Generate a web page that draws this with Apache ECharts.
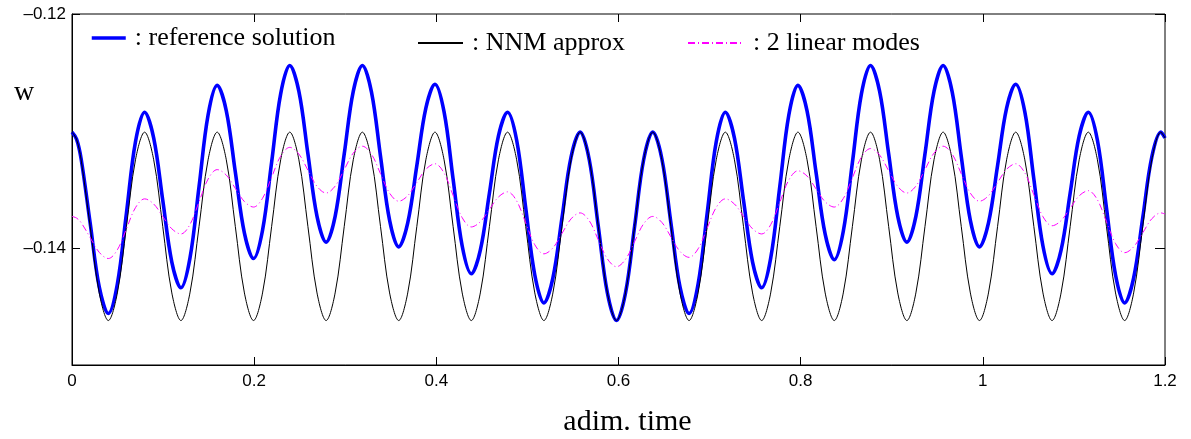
<!DOCTYPE html>
<html><head><meta charset="utf-8">
<script src="https://cdn.jsdelivr.net/npm/echarts@6/dist/echarts.min.js"></script>
<style>html,body{margin:0;padding:0;background:#fff}#c{width:1191px;height:439px}</style>
</head><body><div id="c"></div>
<script>
// adimensional time samples (1/8-period spacing)
const timeValues = [
 0, 0.0050, 0.0100, 0.0199, 0.0299, 0.0399, 0.0498, 0.0598, 0.0697, 0.0797, 0.0897,
 0.0996, 0.1096, 0.1196, 0.1295, 0.1395, 0.1494, 0.1594, 0.1694, 0.1793, 0.1893,
 0.1993, 0.2092, 0.2192, 0.2291, 0.2391, 0.2491, 0.2590, 0.2690, 0.2790, 0.2889,
 0.2989, 0.3088, 0.3188, 0.3288, 0.3387, 0.3487, 0.3587, 0.3686, 0.3786, 0.3885,
 0.3985, 0.4085, 0.4184, 0.4284, 0.4384, 0.4483, 0.4583, 0.4682, 0.4782, 0.4882,
 0.4981, 0.5081, 0.5181, 0.5280, 0.5380, 0.5479, 0.5579, 0.5679, 0.5778, 0.5878,
 0.5978, 0.6077, 0.6177, 0.6276, 0.6376, 0.6476, 0.6575, 0.6675, 0.6775, 0.6874,
 0.6974, 0.7073, 0.7173, 0.7273, 0.7372, 0.7472, 0.7572, 0.7671, 0.7771, 0.7870,
 0.7970, 0.8070, 0.8169, 0.8269, 0.8369, 0.8468, 0.8568, 0.8667, 0.8767, 0.8867,
 0.8966, 0.9066, 0.9166, 0.9265, 0.9365, 0.9464, 0.9564, 0.9664, 0.9763, 0.9863,
 0.9963, 1.0062, 1.0162, 1.0261, 1.0361, 1.0461, 1.0560, 1.0660, 1.0760, 1.0859,
 1.0959, 1.1058, 1.1158, 1.1258, 1.1357, 1.1457, 1.1557, 1.1656, 1.1756, 1.1855,
 1.1955, 1.2
];
const referenceSolution = [
 -0.1301, -0.13069, -0.13237, -0.13785, -0.14333,  -0.1456, -0.14308, -0.1370, -0.13092,
 -0.1284, -0.13060, -0.1359, -0.14120,   -0.1434, -0.14087, -0.13475, -0.12863,
 -0.1261, -0.12827, -0.1335, -0.13873,   -0.1409, -0.13848, -0.13265, -0.12682,
 -0.1244, -0.12661, -0.13195, -0.13729,  -0.1395, -0.13729, -0.13195, -0.12661,
 -0.1244, -0.12667, -0.13215, -0.13763,  -0.1399, -0.13786, -0.13295, -0.12804,
 -0.1260, -0.12837, -0.1341, -0.13983,   -0.1422, -0.14018, -0.1353, -0.13042,
 -0.1284, -0.13079, -0.13655, -0.14231,  -0.1447, -0.14256, -0.1374, -0.13224,
 -0.1301, -0.13246, -0.13815, -0.14384,  -0.1462, -0.14384, -0.13815, -0.13246,
 -0.1301, -0.13237, -0.13785, -0.14333,  -0.1456, -0.14308, -0.1370, -0.13092,
 -0.1284, -0.13060, -0.1359, -0.14120,   -0.1434, -0.14087, -0.13475, -0.12863,
 -0.1261, -0.12828, -0.13355, -0.13882,  -0.1410, -0.13857, -0.1327, -0.12683,
 -0.1244, -0.12661, -0.13195, -0.13729,  -0.1395, -0.13729, -0.13195, -0.12661,
 -0.1244, -0.12667, -0.13215, -0.13763,  -0.1399, -0.13786, -0.13295, -0.12804,
 -0.1260, -0.12837, -0.1341, -0.13983,   -0.1422, -0.14018, -0.1353, -0.13042,
 -0.1284, -0.13079, -0.13655, -0.14231,  -0.1447, -0.14256, -0.1374, -0.13224,
 -0.1301, -0.1306
];
const nnmApprox = [
 -0.1301, -0.13071, -0.13246, -0.13815, -0.14384,  -0.1462, -0.14384, -0.13815, -0.13246,
 -0.1301, -0.13246, -0.13815, -0.14384,  -0.1462, -0.14384, -0.13815, -0.13246,
 -0.1301, -0.13246, -0.13815, -0.14384,  -0.1462, -0.14384, -0.13815, -0.13246,
 -0.1301, -0.13246, -0.13815, -0.14384,  -0.1462, -0.14384, -0.13815, -0.13246,
 -0.1301, -0.13246, -0.13815, -0.14384,  -0.1462, -0.14384, -0.13815, -0.13246,
 -0.1301, -0.13246, -0.13815, -0.14384,  -0.1462, -0.14384, -0.13815, -0.13246,
 -0.1301, -0.13246, -0.13815, -0.14384,  -0.1462, -0.14384, -0.13815, -0.13246,
 -0.1301, -0.13246, -0.13815, -0.14384,  -0.1462, -0.14384, -0.13815, -0.13246,
 -0.1301, -0.13246, -0.13815, -0.14384,  -0.1462, -0.14384, -0.13815, -0.13246,
 -0.1301, -0.13246, -0.13815, -0.14384,  -0.1462, -0.14384, -0.13815, -0.13246,
 -0.1301, -0.13246, -0.13815, -0.14384,  -0.1462, -0.14384, -0.13815, -0.13246,
 -0.1301, -0.13246, -0.13815, -0.14384,  -0.1462, -0.14384, -0.13815, -0.13246,
 -0.1301, -0.13246, -0.13815, -0.14384,  -0.1462, -0.14384, -0.13815, -0.13246,
 -0.1301, -0.13246, -0.13815, -0.14384,  -0.1462, -0.14384, -0.13815, -0.13246,
 -0.1301, -0.13246, -0.13815, -0.14384,  -0.1462, -0.14384, -0.13815, -0.13246,
 -0.1301, -0.1306
];
const twoLinearModes = [
 -0.1373, -0.13744, -0.13783, -0.1391, -0.14037,   -0.1409, -0.14015, -0.13835, -0.13655,
 -0.1358, -0.13624, -0.1373, -0.13836,   -0.1388, -0.13799, -0.13605, -0.13411,
 -0.1333, -0.13377, -0.1349, -0.13603,   -0.1365, -0.13575, -0.13395, -0.13215,
 -0.1314, -0.13197, -0.13335, -0.13473,  -0.1353, -0.13471, -0.1333, -0.13189,
 -0.1313, -0.13199, -0.13365, -0.13531,  -0.1360, -0.13553, -0.1344, -0.13327,
 -0.1328, -0.13359, -0.1355, -0.13741,   -0.1382, -0.13776, -0.1367, -0.13564,
 -0.1352, -0.13598, -0.13785, -0.13972,  -0.1405, -0.13999, -0.13875, -0.13751,
 -0.1370, -0.13767, -0.1393, -0.14093,   -0.1416, -0.14097, -0.13945, -0.13793,
 -0.1373, -0.13781, -0.13905, -0.14029,  -0.1408, -0.14007, -0.1383, -0.13653,
 -0.1358, -0.13624, -0.1373, -0.13836,   -0.1388, -0.13801, -0.1361, -0.13419,
 -0.1334, -0.13385, -0.13495, -0.13605,  -0.1365, -0.13577, -0.1340, -0.13223,
 -0.1315, -0.13206, -0.1334, -0.13474,   -0.1353, -0.13471, -0.1333, -0.13189,
 -0.1313, -0.13199, -0.13365, -0.13531,  -0.1360, -0.13553, -0.1344, -0.13327,
 -0.1328, -0.13358, -0.13545, -0.13732,  -0.1381, -0.13766, -0.1366, -0.13554,
 -0.1351, -0.13588, -0.13775, -0.13962,  -0.1404, -0.1399, -0.1387, -0.1375,
 -0.1370, -0.1371
];
const seriesNames = [': reference solution', ': NNM approx', ': 2 linear modes'];
const xTickValues = [0, 0.2, 0.4, 0.6, 0.8, 1, 1.2];
const xTickLabels = ['0', '0.2', '0.4', '0.6', '0.8', '1', '1.2'];
const yTickValues = [-0.14, -0.12];
const yTickLabels = ['\u20130.14', '\u20130.12'];

const pairs = (ys) => timeValues.map((t, i) => [t, ys[i]]);
const sans = 'Liberation Sans, Arial, sans-serif';
const serif = 'Liberation Serif, Times New Roman, serif';

const chart = echarts.init(document.getElementById('c'), null, {renderer: 'canvas'});
const xLabelFmt = (v) => { const i = xTickValues.findIndex(x => Math.abs(x - v) < 1e-9); return i >= 0 ? xTickLabels[i] : ''; };
const yLabelFmt = (v) => { const i = yTickValues.findIndex(y => Math.abs(y - v) < 1e-9); return i >= 0 ? yTickLabels[i] : ''; };
const legendBase = {padding: 0, itemHeight: 14, itemStyle: {opacity: 0}};
const yRange = {type: 'value', min: -0.15, max: -0.12, splitLine: {show: false}};

chart.setOption({
  animation: false,
  backgroundColor: '#fff',
  grid: {left: 72, right: 26, top: 14, bottom: 74, show: true, borderColor: '#000', borderWidth: 1, containLabel: false, outerBoundsMode: 'none'},
  xAxis: [{
    type: 'value', min: 0, max: 1.2, interval: 0.2,
    axisLine: {show: true, onZero: false, lineStyle: {color: '#000', width: 1}},
    axisTick: {show: true, inside: true, length: 8, lineStyle: {color: '#000'}},
    axisLabel: {color: '#000', fontFamily: sans, fontSize: 17, margin: 8, formatter: xLabelFmt},
    splitLine: {show: false},
    name: 'adim. time', nameLocation: 'middle', nameGap: 42,
    nameTextStyle: {color: '#000', fontFamily: serif, fontSize: 30, padding: [0, 0, 0, 18]}
  }, {
    type: 'value', min: 0, max: 1.2, interval: 0.2, position: 'top',
    axisLine: {show: false, onZero: false}, axisLabel: {show: false}, splitLine: {show: false},
    axisTick: {show: true, inside: true, length: 8, lineStyle: {color: '#000'}}
  }],
  yAxis: [Object.assign({
    position: 'left',
    axisLine: {show: true, onZero: false, lineStyle: {color: '#000', width: 1}},
    axisTick: {show: true, inside: true, length: 8, customValues: yTickValues, lineStyle: {color: '#000'}},
    axisLabel: {color: '#000', fontFamily: sans, fontSize: 17, margin: 6, customValues: yTickValues, formatter: yLabelFmt}
  }, yRange), Object.assign({
    position: 'right',
    axisLine: {show: false, onZero: false}, axisLabel: {show: false},
    axisTick: {show: true, inside: true, length: 10, customValues: yTickValues, lineStyle: {color: '#000'}}
  }, yRange)],
  legend: [
    Object.assign({data: [seriesNames[0]], left: 90, top: 25, itemWidth: 34, lineStyle: {width: 3.5},
     textStyle: {color: '#000', fontFamily: serif, fontSize: 26, padding: [0, 0, 0, 4]}}, legendBase),
    Object.assign({data: [seriesNames[1]], left: 417, top: 30, itemWidth: 45,
     textStyle: {color: '#000', fontFamily: serif, fontSize: 26, padding: [0, 0, 0, 4]}}, legendBase),
    Object.assign({data: [seriesNames[2]], left: 687, top: 30, itemWidth: 53,
     textStyle: {color: '#000', fontFamily: serif, fontSize: 26, padding: [0, 0, 0, 7]}}, legendBase)
  ],
  graphic: [{type: 'text', left: 14, top: 79, style: {text: 'w', fill: '#000', font: '28px ' + serif}}],
  series: [
    {name: seriesNames[0], type: 'line', data: pairs(referenceSolution), smooth: 0.35, symbol: 'none',
     lineStyle: {color: '#0000ff', width: 3.6}, itemStyle: {color: '#0000ff'}},
    {name: seriesNames[1], type: 'line', data: pairs(nnmApprox), smooth: 0.35, symbol: 'none',
     lineStyle: {color: '#000000', width: 1}, itemStyle: {color: '#000000'}},
    {name: seriesNames[2], type: 'line', data: pairs(twoLinearModes), smooth: 0.35, symbol: 'none',
     lineStyle: {color: '#ff00ff', width: 1, type: [7, 3, 1, 3]}, itemStyle: {color: '#ff00ff'}}
  ]
});
</script></body></html>
